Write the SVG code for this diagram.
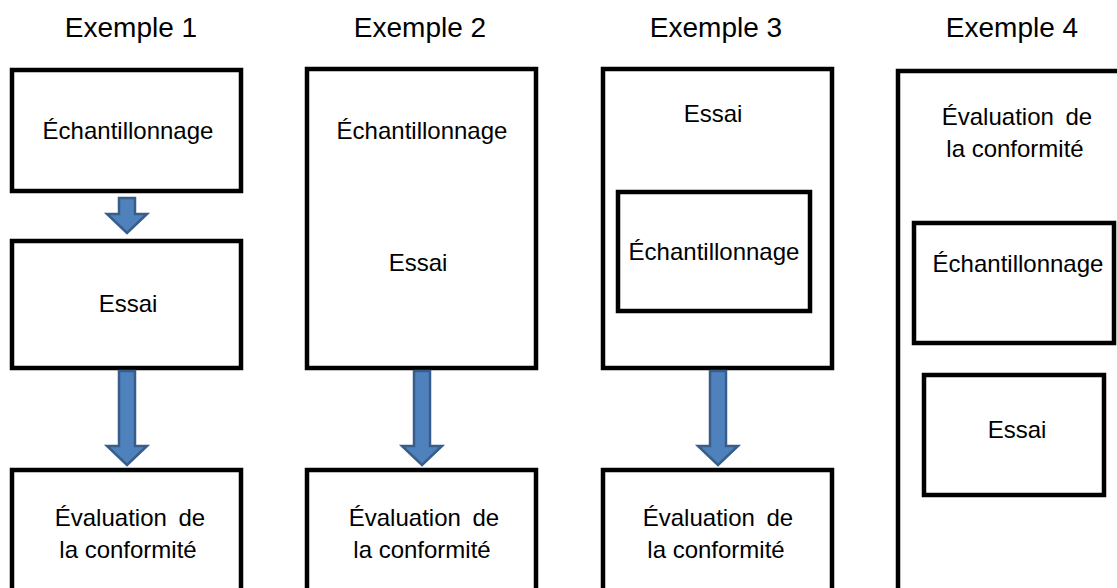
<svg xmlns="http://www.w3.org/2000/svg" width="1117" height="588" viewBox="0 0 1117 588">
<style>
.box{fill:#ffffff;stroke:#000000;stroke-width:4.5;stroke-linejoin:miter}
.t{font-family:"Liberation Sans",Arial,sans-serif;font-size:24px;fill:#000000;text-anchor:middle}
.ev{word-spacing:5px}
.title{font-family:"Liberation Sans",Arial,sans-serif;font-size:28px;fill:#000000;text-anchor:middle}
.arrow{fill:#4F81BD;stroke:#385D8A;stroke-width:2.5;stroke-linejoin:miter}
</style>
<rect width="1117" height="588" fill="#ffffff"/>
<g id="titles">
<text class="title" x="131" y="37">Exemple 1</text>
<text class="title" x="420" y="37">Exemple 2</text>
<text class="title" x="716" y="37">Exemple 3</text>
<text class="title" x="1012" y="37">Exemple 4</text>
</g>
<g id="ex1-echantillonnage">
<rect class="box" x="12" y="70" width="229" height="121"/>
<text class="t" x="128" y="139">Échantillonnage</text>
</g>
<g id="ex1-essai">
<rect class="box" x="12" y="241" width="229" height="127"/>
<text class="t" x="128" y="312">Essai</text>
</g>
<g id="ex1-evaluation">
<rect class="box" x="12" y="470" width="229" height="160"/>
<text class="t ev" x="130" y="526">Évaluation de</text>
<text class="t" x="128" y="558">la conformité</text>
</g>
<g id="ex2-echantillonnage-essai">
<rect class="box" x="307" y="69" width="229" height="299"/>
<text class="t" x="422" y="139">Échantillonnage</text>
<text class="t" x="418" y="271">Essai</text>
</g>
<g id="ex2-evaluation">
<rect class="box" x="307" y="470" width="229" height="160"/>
<text class="t ev" x="424" y="526">Évaluation de</text>
<text class="t" x="422" y="558">la conformité</text>
</g>
<g id="ex3-essai">
<rect class="box" x="603" y="69" width="229" height="299"/>
<text class="t" x="713" y="122">Essai</text>
</g>
<g id="ex3-echantillonnage">
<rect class="box" x="618" y="192" width="192" height="119"/>
<text class="t" x="714" y="260">Échantillonnage</text>
</g>
<g id="ex3-evaluation">
<rect class="box" x="603" y="470" width="229" height="160"/>
<text class="t ev" x="718" y="526">Évaluation de</text>
<text class="t" x="716" y="558">la conformité</text>
</g>
<g id="ex4-evaluation">
<rect class="box" x="898" y="71" width="250" height="560"/>
<text class="t ev" x="1017" y="125">Évaluation de</text>
<text class="t" x="1015" y="157">la conformité</text>
</g>
<g id="ex4-echantillonnage">
<rect class="box" x="914" y="223" width="200" height="120"/>
<text class="t" x="1018" y="272">Échantillonnage</text>
</g>
<g id="ex4-essai">
<rect class="box" x="924" y="375" width="180" height="120"/>
<text class="t" x="1017" y="438">Essai</text>
</g>
<g id="connectors">
<path class="arrow" d="M119,198 H135 V214 H147 L127,233 L107,214 H119 Z"/>
<path class="arrow" d="M119,371 H135 V446 H147 L127,465 L107,446 H119 Z"/>
<path class="arrow" d="M414,371 H430 V446 H442 L422,465 L402,446 H414 Z"/>
<path class="arrow" d="M710,371 H726 V446 H738 L718,465 L698,446 H710 Z"/>
</g>
</svg>
